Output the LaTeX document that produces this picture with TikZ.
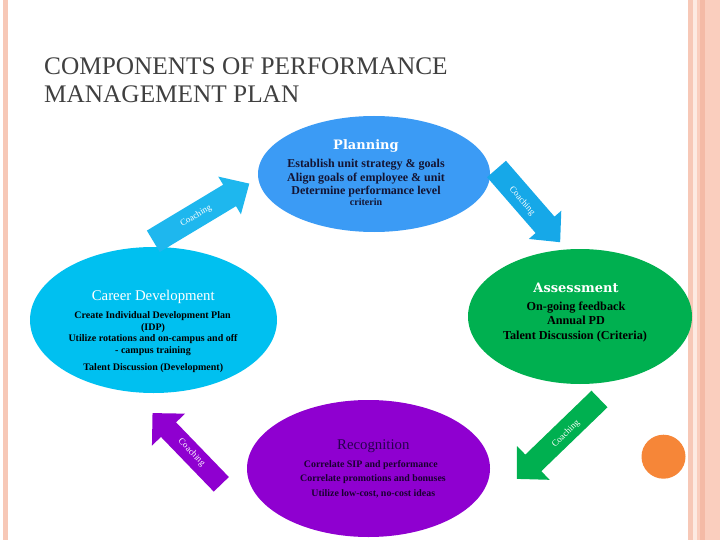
\documentclass[tikz,border=0pt]{standalone}
\usepackage{fontspec}
\setmainfont{Liberation Serif}
\newfontfamily\wideserif{DejaVu Serif}
\usetikzlibrary{shapes.geometric}
\definecolor{planblue}{RGB}{59,155,245}
\definecolor{careercyan}{RGB}{0,192,240}
\definecolor{assessgreen}{RGB}{0,176,80}
\definecolor{recogpurple}{RGB}{143,0,208}
\definecolor{arrowcyan}{RGB}{30,183,238}
\definecolor{arrowblue}{RGB}{22,168,232}
\definecolor{titlegray}{RGB}{64,64,64}
\definecolor{stripeA}{RGB}{247,200,183}
\definecolor{stripeB}{RGB}{253,234,226}
\definecolor{stripeC}{RGB}{250,206,190}
\definecolor{stripeD}{RGB}{244,186,166}
\definecolor{dotorange}{RGB}{246,134,56}
\definecolor{bodynavy}{RGB}{20,20,50}
\definecolor{recoghead}{RGB}{40,0,80}
\definecolor{recogbody}{RGB}{26,0,48}
% color, base x, base y, angle, length, shaft width, head width, head length
\newcommand{\coacharrow}[8]{%
  \fill[#1, shift={(#2,#3)}, rotate=#4]
    (0,{-#6/2}) -- ({#5-#8},{-#6/2}) -- ({#5-#8},{-#7/2}) -- (#5,0)
    -- ({#5-#8},{#7/2}) -- ({#5-#8},{#6/2}) -- (0,{#6/2}) -- cycle;}
\begin{document}
\begin{tikzpicture}[x=1pt,y=-1pt,
  blob/.style={ellipse, draw=none, inner sep=0},
  headw/.style={font=\wideserif\bfseries\fontsize{13}{15}\selectfont, text=white, anchor=base, inner sep=0},
  headr/.style={font=\fontsize{14.8}{16}\selectfont, anchor=base, inner sep=0},
  planbody/.style={font=\bfseries\fontsize{12}{13}\selectfont, anchor=base, inner sep=0},
  assessbody/.style={font=\bfseries\fontsize{12.2}{13}\selectfont, anchor=base, inner sep=0},
  careerbody/.style={font=\bfseries\fontsize{10}{11}\selectfont, anchor=base, inner sep=0},
  recogbodyst/.style={font=\bfseries\fontsize{9.9}{11}\selectfont, anchor=base, inner sep=0},
  coach/.style={font=\fontsize{9}{10}\selectfont, text=white, inner sep=0},
  titletext/.style={font=\fontsize{25.3}{28}\selectfont, text=titlegray, anchor=base west, inner sep=0}]
\useasboundingbox (0,0) rectangle (720,540);
\fill[white] (0,0) rectangle (720,540);
% border stripes
\fill[stripeA] (3.3,0) rectangle (8.3,540);
\fill[stripeA] (688,0) rectangle (693.3,540);
\fill[stripeB] (693.3,0) rectangle (696.7,540);
\fill[stripeC] (696.7,0) rectangle (720,540);
\fill[stripeD] (700,0) rectangle (705,540);
% orange dot
\fill[dotorange] (663.5,456.7) circle (22);
% title
\node[titletext] (t1) at (44,75) {COMPONENTS OF PERFORMANCE};
\node[titletext] (t2) at (44,103) {MANAGEMENT PLAN};
% ellipses
\node[blob, fill=planblue, minimum width=232, minimum height=116] (plan) at (374,174) {};
\node[blob, fill=careercyan, minimum width=247, minimum height=146] (career) at (153.5,320) {};
\node[blob, fill=assessgreen, minimum width=224, minimum height=135] (assess) at (580,316.5) {};
\node[blob, fill=recogpurple, minimum width=243, minimum height=137] (recog) at (368.5,468.5) {};
% arrows
\coacharrow{arrowcyan}{153.3}{241.3}{31}{112}{25}{44}{23}
\coacharrow{arrowblue}{496.5}{169}{-49}{97}{25}{43}{23}
\coacharrow{assessgreen}{599.5}{399}{-136}{115}{23}{47}{23}
\coacharrow{recogpurple}{221.3}{484.3}{134}{99}{21}{46}{23}
\node[coach, rotate=31] (c1) at (196,216) {Coaching};
\node[coach, rotate=-49] (c2) at (522,201) {Coaching};
\node[coach, rotate=44] (c3) at (566,434) {Coaching};
\node[coach, rotate=-46] (c4) at (191.5,452.5) {Coaching};
% Planning text
\node[headw] (planh) at (366,149.5) {Planning};
\node[planbody, text=bodynavy] (p1) at (366,167.3) {Establish unit strategy \& goals};
\node[planbody, text=bodynavy] (p2) at (366,181.7) {Align goals of employee \& unit};
\node[planbody, text=bodynavy] (p3) at (366,195) {Determine performance level};
\node[careerbody, text=bodynavy] (p4) at (366,205.5) {criterin};
% Career text
\node[headr, text=white] (careerh) at (153.3,300) {Career Development};
\node[careerbody] (k1) at (152.5,318.3) {Create Individual Development Plan};
\node[careerbody] (k2) at (153,330) {(IDP)};
\node[careerbody] (k3) at (153,341.5) {Utilize rotations and on-campus and off};
\node[careerbody] (k4) at (153,353.3) {- campus training};
\node[careerbody] (k5) at (153.3,370) {Talent Discussion (Development)};
% Assessment text
\node[headw] (assessh) at (576,292.3) {Assessment};
\node[assessbody] (a1) at (576,310) {On-going feedback};
\node[assessbody] (a2) at (576,324.5) {Annual PD};
\node[assessbody] (a3) at (575,339.3) {Talent Discussion (Criteria)};
% Recognition text
\node[headr, text=recoghead] (recogh) at (373.3,449.3) {Recognition};
\node[recogbodyst, text=recogbody] (r1) at (370.8,467.3) {Correlate SIP and performance};
\node[recogbodyst, text=recogbody] (r2) at (373,481.7) {Correlate promotions and bonuses};
\node[recogbodyst, text=recogbody] (r3) at (373.3,496) {Utilize low-cost, no-cost ideas};
\end{tikzpicture}
\end{document}
